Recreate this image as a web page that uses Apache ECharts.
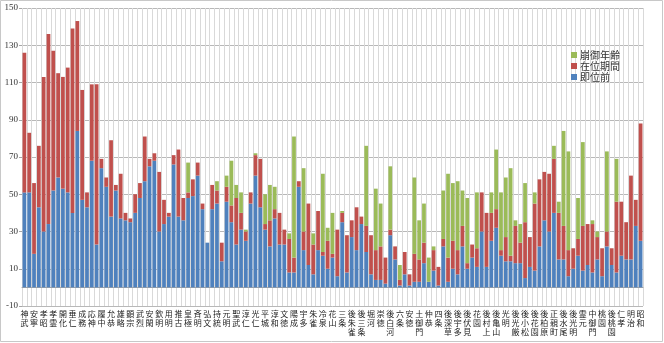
<!DOCTYPE html>
<html><head><meta charset="utf-8">
<script src="https://cdn.jsdelivr.net/npm/echarts@6/dist/echarts.min.js"></script>
<style>html,body{margin:0;padding:0;background:#fff}#c{width:664px;height:343px}</style>
</head><body><div id="c"></div>
<script>
const categories = ['神武','綏靖','安寧','懿徳','孝昭','孝安','孝霊','孝元','開化','崇神','垂仁','景行','成務','仲哀','応神','仁徳','履中','反正','允恭','安康','雄略','清寧','顕宗','仁賢','武烈','継体','安閑','宣化','欽明','敏達','用明','崇峻','推古','舒明','皇極','孝徳','斉明','天智','弘文','天武','持統','文武','元明','元正','聖武','孝謙','淳仁','称徳','光仁','桓武','平城','嵯峨','淳和','仁明','文徳','清和','陽成','光孝','宇多','醍醐','朱雀','村上','冷泉','円融','花山','一条','三条','後一条','後朱雀','後冷泉','後三条','白河','堀河','鳥羽','崇徳','近衛','後白河','二条','六条','高倉','安徳','後鳥羽','土御門','順徳','仲恭','後堀河','四条','後嵯峨','後深草','亀山','後宇多','伏見','後伏見','後二条','花園','後醍醐','後村上','長慶','後亀山','光厳','光明','崇光','後光厳','後円融','後小松','称光','後花園','後土御門','後柏原','後奈良','正親町','後陽成','後水尾','明正','後光明','後西','霊元','東山','中御門','桜町','桃園','後桜町','後桃園','光格','仁孝','孝明','明治','大正','昭和'];
// 即位前
const beforeAccession = [51,51,18,43,30,34,52,59,53,51,40,84,47,43,68,23,64,54,38,52,37,36,35,40,48,57,65,68,30,34,38,66,38,36,48,49,60,42,24,42,45,14,46,35,23,31,25,45,60,43,31,22,37,23,23,8,8,54,20,12,7,20,17,10,16,6,35,8,27,20,34,19,7,4,4,2,28,15,1,7,1,3,3,13,3,9,1,22,3,10,7,22,10,16,11,30,11,25,32,17,14,14,13,13,5,11,9,22,36,30,40,15,15,6,10,17,9,12,8,15,6,22,12,8,17,15,15,33,25];
// 在位期間
const reign = [75,32,38,33,83,102,75,56,60,67,99,59,59,8,41,86,5,5,41,3,24,4,2,10,8,24,4,4,32,13,2,5,36,12,3,9,7,3,0,13,7,10,8,9,25,9,5,6,11,26,3,14,5,17,8,18,8,3,10,33,16,21,2,15,2,25,5,20,9,23,4,14,21,16,18,14,3,7,3,12,6,15,12,11,0,11,10,4,13,15,13,11,3,7,10,21,29,15,10,3,13,3,20,11,30,16,36,36,26,31,29,25,18,14,11,9,24,22,26,12,15,8,9,38,29,20,45,14,63];
// 崩御年齢(退位後)
const afterReign = [0,0,0,0,0,0,0,0,0,0,0,0,0,0,0,0,0,0,0,0,0,0,0,0,0,0,0,0,0,0,0,0,0,0,16,0,0,0,0,0,5,0,6,24,7,11,1,0,1,0,16,19,12,0,0,3,65,0,34,0,6,0,42,7,22,0,1,0,0,0,0,43,0,33,23,0,34,0,8,0,0,41,21,21,13,2,0,26,45,31,37,19,35,0,30,0,0,11,32,31,32,47,3,10,21,0,6,0,0,0,7,6,51,53,0,22,45,0,2,3,0,43,0,23,0,0,0,0,0];
const yTicks = {min:-10, max:150, interval:20};

const chart = echarts.init(document.getElementById('c'), null, {renderer:'canvas'});
const barCommon = {type:'bar', stack:'total', barCategoryGap:'22%'};
chart.setOption({
  animation:false,
  textStyle:{fontFamily:'Noto Sans CJK JP'},
  graphic:[{type:'rect',shape:{x:0.5,y:0.5,width:662,height:341},style:{fill:'none',stroke:'#c8c8c8',lineWidth:1},silent:true}],
  legend:{
    orient:'vertical', left:566, top:45, itemWidth:6, itemHeight:6, itemGap:1,
    icon:'rect',
    data:['崩御年齢','在位期間','即位前'],
    textStyle:{fontSize:10, color:'#333', padding:[0,0,0,-2]}
  },
  grid:{left:22, right:21, top:8, bottom:37, containLabel:false},
  xAxis:{
    type:'category', data:categories,
    axisLine:{onZero:true, lineStyle:{color:'#a6a6a6'}},
    axisTick:{show:false, interval:0},
    axisLabel:{interval:1, fontSize:8, lineHeight:9, margin:3, color:'#222',
      formatter:v=>v.split('').join('\n')},
    splitLine:{show:true, interval:0, lineStyle:{color:'#d9d9d9', width:1}}
  },
  yAxis:{
    type:'value', min:yTicks.min, max:yTicks.max, interval:yTicks.interval,
    axisLine:{show:false},
    axisTick:{show:true, length:3, lineStyle:{color:'#a6a6a6'}},
    axisLabel:{fontSize:9, margin:4, color:'#333', fontFamily:'Liberation Serif'},
    splitLine:{lineStyle:{color:'#b8b8b8', width:1}}
  },
  series:[
    Object.assign({name:'即位前', data:beforeAccession, itemStyle:{color:'#4F81BD'}}, barCommon),
    Object.assign({name:'在位期間', data:reign, itemStyle:{color:'#C0504D'}}, barCommon),
    Object.assign({name:'崩御年齢', data:afterReign, itemStyle:{color:'#9BBB59'}}, barCommon)
  ]
});
</script></body></html>
